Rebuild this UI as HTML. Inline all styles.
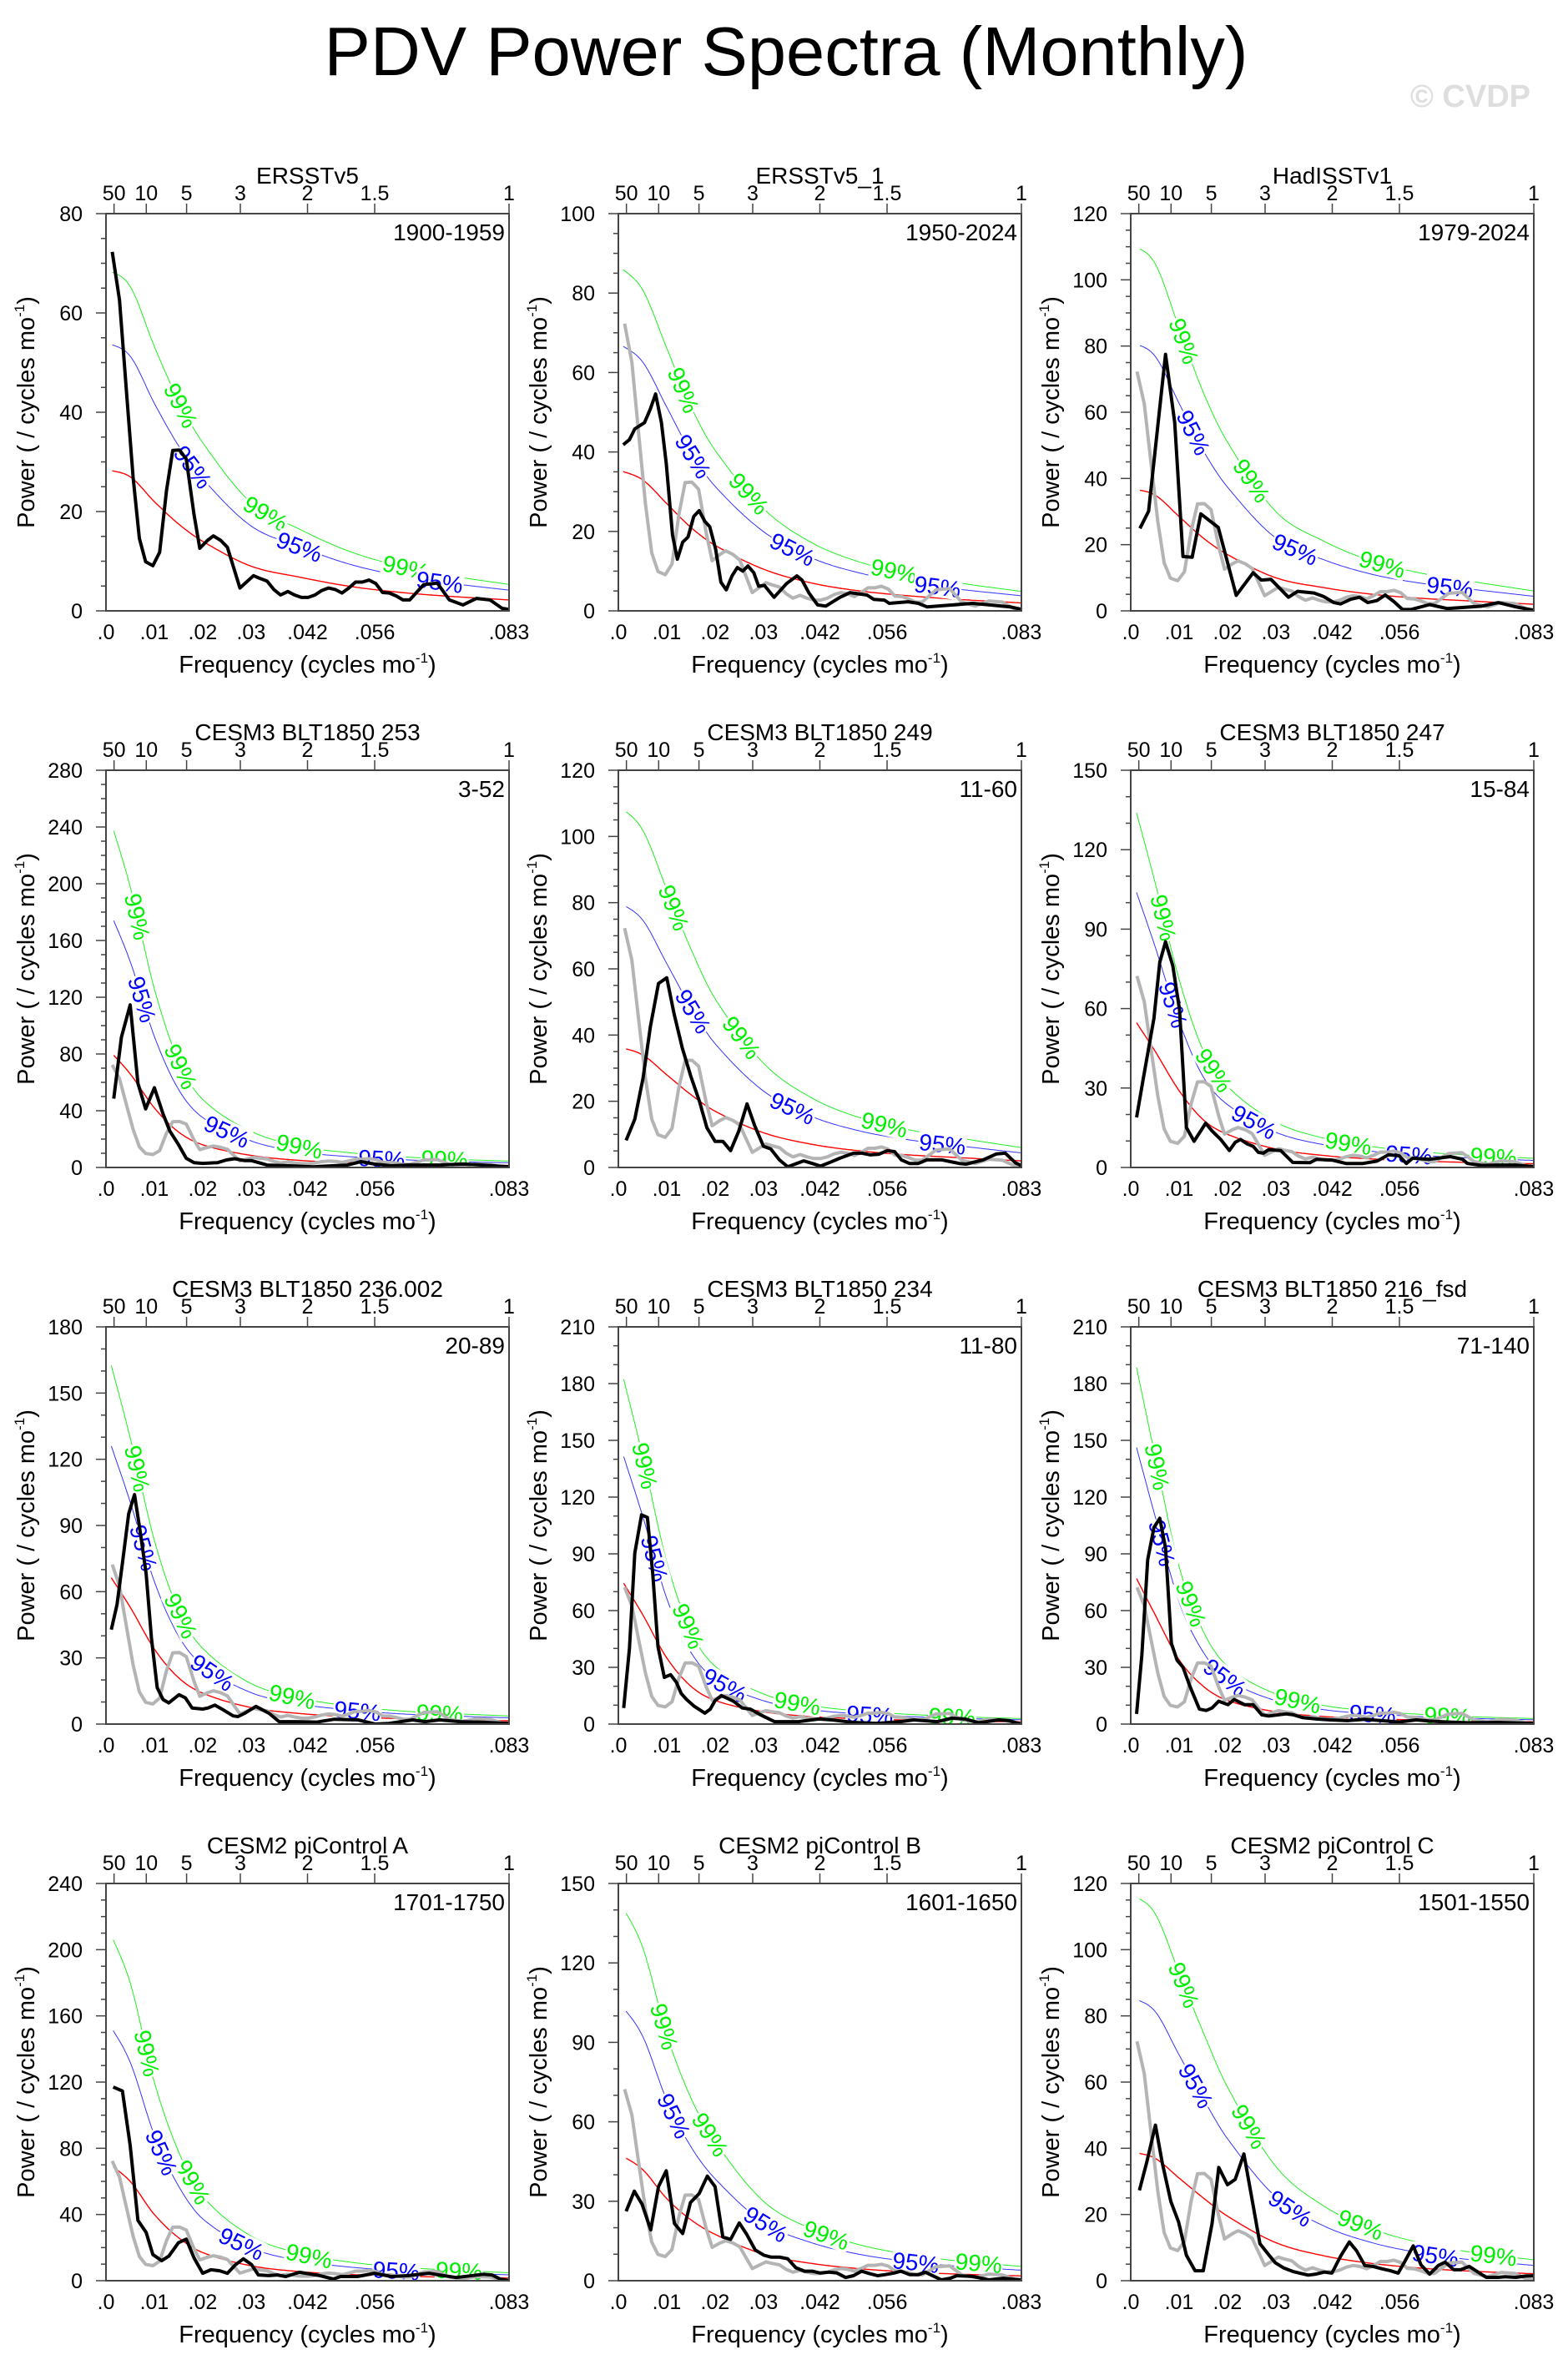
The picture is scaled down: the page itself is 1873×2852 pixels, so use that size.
<!DOCTYPE html>
<html><head><meta charset="utf-8">
<style>
html,body{margin:0;padding:0;background:#fff;}
svg{display:block;font-family:"Liberation Sans",Arial,sans-serif;}
</style></head>
<body>
<svg id="chart" width="1873" height="2852" viewBox="0 0 1873 2852" xmlns="http://www.w3.org/2000/svg">
<rect width="1873" height="2852" fill="#fff"/>
<text x="942" y="90" text-anchor="middle" font-size="83" fill="#000">PDV Power Spectra (Monthly)</text>
<text x="1834" y="128" text-anchor="end" font-size="38" font-weight="bold" fill="#dedede">© CVDP</text>
<g id="panels"></g>
</svg>
<script>
// ---- panel metadata ----
const titles=["ERSSTv5","ERSSTv5_1","HadISSTv1","CESM3 BLT1850 253","CESM3 BLT1850 249","CESM3 BLT1850 247","CESM3 BLT1850 236.002","CESM3 BLT1850 234","CESM3 BLT1850 216_fsd","CESM2 piControl A","CESM2 piControl B","CESM2 piControl C"];
const periods=["1900-1959","1950-2024","1979-2024","3-52","11-60","15-84","20-89","11-80","71-140","1701-1750","1601-1650","1501-1550"];
const yMaxes=[80,100,120,280,120,150,180,210,210,240,150,120];
const yMajor=[20,20,20,40,20,30,30,30,30,40,30,20];
const xTickVals=[0,0.01,0.02,0.03,0.04167,0.05556,0.08333];
const xTickLabels=[".0",".01",".02",".03",".042",".056",".083"];
const periodTicks=[50,10,5,3,2,1.5,1];
const periodLabels=["50","10","5","3","2","1.5","1"];

// ---- black spectra (frequency, power) ----
const p1F=[.0013,.0028,.0042,.0056,.0069,.0082,.0097,.0111,.0125,.0138,.0152,.0166,.0182,.0194,.021,.0222,.0237,.0251,.0277,.0305,.0319,.0333,.0347,.0361,.0376,.039,.0404,.0418,.0432,.0446,.046,.0474,.0488,.0502,.0516,.053,.0544,.0558,.0572,.0586,.06,.0614,.0628,.0657,.0685,.071,.0738,.0766,.0794,.0819,.0833];
const p1P=[72.3,62.6,44.7,26.9,14.6,9.9,9.1,11.8,24.2,32.3,32.4,30.6,19.4,12.6,14.2,15.1,14.2,12.8,4.6,7.1,6.5,6,4.3,3.2,3.9,3.2,2.7,2.7,3.2,4.1,4.6,4.3,3.6,4.6,5.8,5.8,6.2,5.5,3.7,3.6,3,2.2,2.2,5.3,5.6,2.2,1.2,2.5,2.2,0.5,0.3];
const p2F=[.001,.0023,.0034,.0054,.0066,.0077,.0089,.0099,.0112,.0122,.0133,.0144,.0156,.0167,.0179,.0189,.0201,.0212,.0223,.0235,.0246,.0257,.0268,.028,.029,.0302,.0322,.0348,.0369,.038,.0394,.0412,.0429,.0458,.0479,.0514,.0528,.055,.056,.0599,.062,.0638,.0683,.0732,.0768,.081,.0833];
const p2P=[41.8,43.1,45.8,47.4,50.8,54.6,47.4,37.1,19.1,13,17.3,18.6,23.8,25.2,22.5,21.2,15.6,7.2,5.3,8.8,10.9,10,11.3,9.6,6.2,6.4,3.4,6.9,8.8,7.7,4.5,1.5,1.2,3.4,4.6,4,2.9,2.7,1.9,2.3,1.9,1,1.4,1.9,1.5,1,0.4];
const p3F=[.0019,.0037,.0072,.0091,.0108,.0127,.0145,.0181,.0218,.0253,.027,.029,.0326,.0345,.0379,.0399,.042,.0434,.0455,.0473,.049,.0509,.0526,.0544,.0562,.0579,.0618,.0654,.0725,.076,.0796,.0833];
const p3P=[24.9,30.1,77.5,56.9,16.4,16.2,29.3,25.2,4.7,11.5,9.3,9.5,4.1,5.9,5.4,4.3,2.5,2.1,3.5,4.1,2.5,3.1,4.8,2.8,0.4,0.4,1.9,0.7,1.4,2.5,1.2,0.2];
const p4F=[.0016,.0032,.005,.0066,.0082,.01,.0118,.0132,.015,.0166,.0182,.02,.0231,.0249,.0266,.0287,.0301,.0333,.0379,.0428,.0499,.0527,.0555,.059,.0625,.0689,.0738,.078,.0833];
const p4P=[48.5,91.8,114.6,59.3,41.3,56.2,37.7,25.7,16.1,6.5,3.4,2.9,3.4,5.3,6.2,4.8,4.8,1.7,1.2,0.5,1.7,4.1,2.4,1.2,1.7,1.7,2.4,1.7,0.5];
const p5F=[.0016,.0034,.0051,.0066,.0083,.01,.0115,.0132,.015,.0168,.0183,.02,.0216,.0232,.0249,.0266,.0282,.03,.0315,.0333,.035,.0365,.0383,.0401,.0418,.044,.0458,.0486,.0504,.0521,.0539,.0556,.0571,.0585,.0602,.062,.0638,.0669,.0705,.0719,.0754,.0782,.08,.0821,.0835];
const p5P=[8.2,14.6,27,42.4,55.6,57.3,46.5,36.2,27.5,19.8,12,7.9,7.9,5.1,11,19.2,12.6,6.4,5.6,2.3,0.2,1,2,1.2,0.4,1.7,2.8,4.3,4.3,3.8,4,5.1,4.8,2.3,1.2,1.2,2.3,2.3,1.2,1,2.3,4.1,4.3,1.4,0.4];
const p6F=[.0012,.0026,.0048,.006,.0072,.0087,.0101,.0115,.0131,.0155,.0168,.0186,.0204,.0216,.0227,.0241,.0253,.0264,.0274,.0285,.031,.0335,.037,.0384,.0416,.0445,.048,.0509,.0533,.0555,.057,.0583,.0618,.0661,.0686,.0696,.0725,.076,.0796,.0833];
const p6P=[18.9,33.7,56.3,77.5,85.2,76.2,59.5,15.1,9.9,16.7,13.8,10.6,6.4,9.5,10.6,8.9,8,5.7,5.4,6.7,6.4,1.9,1.8,3.1,2.8,1.5,1.5,2.4,4.8,4.4,1.5,3.5,3.1,4.1,3.1,1.5,0.8,0.9,0.9,0.3];
const p7F=[.0011,.0023,.0034,.0047,.0059,.0071,.0083,.0094,.0106,.0118,.013,.0151,.0164,.0178,.02,.0211,.0225,.0242,.0263,.0273,.0287,.031,.0337,.0358,.0394,.0436,.0472,.0521,.0556,.0585,.0634,.0659,.069,.0732,.0782,.0833];
const p7P=[42.8,54.3,72.9,95.3,104,86.7,68.2,38.9,16.5,11.1,9.6,13.3,11.9,7.3,6.8,7.3,8.6,6.5,3.7,3.4,4.9,8,4.9,1.1,1.1,0.9,2.2,1.9,0,0.3,1.9,1.1,1.9,1.1,0.8,0.3];
const p8F=[.0011,.0023,.0034,.0048,.006,.0071,.0082,.0095,.0108,.012,.013,.0141,.0157,.0179,.019,.02,.0213,.0238,.0256,.0273,.0294,.0323,.0372,.0414,.0442,.0485,.0534,.0583,.0611,.066,.0689,.0717,.0745,.0787,.0808,.0833];
const p8P=[8.5,40,90.4,110.6,109.3,79.6,40.9,24.7,26.1,22,16.2,13,9.4,5.8,7.9,12.4,15.1,12.1,8.5,7.9,4.9,1.3,1.3,2.7,2.2,0.9,0.4,1.3,2.2,1.3,3.1,2.7,0.7,2.2,1.8,0];
const p9F=[.0012,.0023,.0035,.0048,.006,.0072,.0084,.0096,.0108,.0122,.0142,.0156,.0168,.0182,.0201,.0214,.0235,.0253,.0271,.0285,.0321,.0335,.0356,.0384,.0413,.0448,.0484,.0519,.0555,.059,.0618,.0654,.0696,.076,.0833];
const p9P=[5.4,36.4,86.8,103.9,108.8,93.1,42.7,33.7,30.1,20.2,7.9,7.2,8.5,12.1,10.3,13,10.3,10.3,4.9,4.3,5.4,5,3.4,2.7,2.2,1.8,2.5,1.8,1.1,2.2,1.6,1.1,0.7,0.9,0.4];
const p10F=[.0015,.0034,.005,.0066,.0083,.0097,.0115,.013,.015,.0166,.0182,.02,.0217,.0235,.0251,.0268,.0284,.0301,.0315,.0337,.0354,.0372,.04,.0425,.0442,.047,.0485,.052,.0555,.059,.0625,.0668,.0689,.0724,.078,.0798,.0815,.0833];
const p10P=[117,114.6,81.7,36.4,29.2,15.8,12.1,14.8,23,25.1,13.8,4.5,6.6,6,4.5,9.7,13.2,9.7,3.5,3.1,3.5,2.5,5.1,3.9,3.1,1,2.5,2.5,4.5,2.5,3.1,4.5,3.5,1.9,3.9,3.5,1,0];
const p11F=[.0016,.0033,.0049,.0067,.0083,.0099,.0116,.0133,.0149,.0167,.0184,.02,.0216,.0232,.025,.0265,.0283,.0301,.0316,.0334,.035,.0367,.0385,.0401,.0417,.0436,.0452,.047,.0486,.0503,.0519,.0536,.0552,.057,.0584,.0602,.062,.0635,.0653,.0668,.0686,.07,.0733,.0766,.0795,.0833];
const p11P=[26.2,33.8,28.9,19.2,35.5,41.5,21.6,17.8,29.5,32.9,39.5,35.5,16.5,15.6,21.8,17.6,11.6,9.6,8.9,8.9,8.3,4.9,3.6,3.6,2.9,3.2,2.9,1.2,1.9,3.6,2.7,1.9,2.3,2.9,3.6,2.3,2.3,3.2,1.6,0.3,0.9,1.9,1.6,0.3,0.9,0.3];
const p12F=[.0018,.0033,.0051,.0065,.0083,.0099,.0115,.0133,.015,.0168,.0182,.02,.0216,.0234,.0251,.0267,.0285,.0299,.0317,.0335,.0349,.0367,.0383,.04,.0416,.0434,.0452,.0467,.0484,.0501,.0519,.0537,.0553,.0567,.0584,.06,.0618,.0636,.065,.0668,.0682,.07,.0716,.0735,.076,.0774,.0796,.0817,.0833];
const p12P=[27.3,35.7,47,35.7,23.9,17.7,7.7,3,3,17.2,34.2,29,30.6,38.3,24.4,11.2,7.9,5.4,3.8,2.8,2.3,1.7,2,2.6,2.3,7.4,11.7,9,4.6,4.3,3.6,3,2.3,5.9,10.5,4.8,2,4.6,5.6,3.3,3.3,4.3,2.8,1,1,1.2,1,1.4,1.5];

// ---- red-noise spectra (sampled) and significance multipliers ----
const redF=[0,.005,.01,.015,.02,.03,.04,.05,.06,.07,.0833];
const red1=[28.5,27,22,17.5,14,9,6.8,5,3.8,3,2.2];
const red2=[35.5,33,27,21,16.5,10.5,7,5,3.8,2.9,2];
const red3=[37,35,28.5,22,17,10,7,5,3.8,3,2];
const red4=[85,66,42,25,16,8.5,5,3.5,2.6,2,1.5];
const red5=[36.5,34,28,22,17,10.5,7,5,3.8,3,2];
const red6=[58,44,29,18,12.5,7,4.5,3.2,2.4,1.9,1.4];
const red7=[70,53,34,21,14,7.5,4.8,3.4,2.5,2,1.5];
const red8=[79,58,35,20,12.5,6.5,4,2.8,2.1,1.6,1.2];
const red9=[83,58,34,20,12.5,6.5,4,2.8,2.1,1.6,1.2];
const red10=[72,60,40,26,17,9,5.5,3.8,2.8,2.2,1.6];
const red11=[48,42,31,23,17.5,10,6.5,4.5,3.3,2.5,1.8];
const red12=[39,37,31,25,19.5,11.5,7.5,5.2,3.8,2.9,2.1];
const sig95=[1.9,1.9,2.2,2.2,2.2,1.9,1.9,1.9,1.9,2.2,2.2,2.2];
const sig99=[2.42,2.45,3.0,3.0,3.0,2.45,2.45,2.45,2.45,3.0,3.0,3.0];
const startF=[.0013,.001,.0019,.0016,.0016,.0012,.0011,.0011,.0012,.0015,.0016,.0018];

// label frequencies along curves
const lab99=[[.0155,.033,.062],[.0135,.027,.057],[.011,.025,.052],[.0065,.0155,.040,.070],[.0115,.0255,.055],[.0068,.0172,.045,.075],[.0065,.0155,.0385,.069],[.0055,.0145,.037,.069],[.0055,.0125,.0345,.0655],[.0085,.018,.042,.073],[.0095,.019,.043,.0745],[.011,.0245,.0475,.075]];
const lab95=[[.018,.040,.069],[.0155,.036,.066],[.013,.034,.066],[.0075,.025,.057],[.0155,.036,.067],[.0088,.0255,.0575],[.0078,.022,.052],[.0075,.022,.052],[.0065,.0195,.050],[.0115,.028,.060],[.0115,.0305,.0615],[.0135,.033,.063]];

const blackF=[p1F,p2F,p3F,p4F,p5F,p6F,p7F,p8F,p9F,p10F,p11F,p12F];
const blackP=[p1P,p2P,p3P,p4P,p5P,p6P,p7P,p8P,p9P,p10P,p11P,p12P];
const reds=[red1,red2,red3,red4,red5,red6,red7,red8,red9,red10,red11,red12];

const NS="http://www.w3.org/2000/svg";
const lefts=[127,741,1355], tops=[256,923,1590,2257];
const PW=483, PH=476, FMAX=0.083333;
function mk(tag,attrs,parent){const e=document.createElementNS(NS,tag);for(const k in attrs)e.setAttribute(k,attrs[k]);parent.appendChild(e);return e;}
function interp(F,V,f){
  const n=F.length; if(f<=F[0])return V[0]; if(f>=F[n-1])return V[n-1];
  let i=0; while(i<n-2&&F[i+1]<f)i++;
  const h=F[i+1]-F[i], t=(f-F[i])/h;
  const m=j=> j===0?(V[1]-V[0])/(F[1]-F[0]) : j===n-1?(V[n-1]-V[n-2])/(F[n-1]-F[n-2]) : (V[j+1]-V[j-1])/(F[j+1]-F[j-1]);
  const t2=t*t,t3=t2*t;
  return (2*t3-3*t2+1)*V[i]+(t3-2*t2+t)*h*m(i)+(-2*t3+3*t2)*V[i+1]+(t3-t2)*h*m(i+1);
}
const root=document.getElementById('panels');
for(let p=0;p<12;p++){
  const L=lefts[p%3], T=tops[Math.floor(p/3)], ymax=yMaxes[p];
  const X=f=>L+f/FMAX*PW, Y=v=>T+PH-v/ymax*PH;
  const g=mk('g',{},root);
  
  
  const cid='clip'+p;
  const cp=mk('clipPath',{id:cid},g); mk('rect',{x:L,y:T,width:PW,height:PH},cp);
  const plot=mk('g',{'clip-path':'url(#'+cid+')'},g);
  const red=reds[p];
  const curve=(mult)=>{let d='';for(let k=0;k<=240;k++){const f=startF[p]+(FMAX-startF[p])*k/240;d+=(k?'L':'M')+X(f).toFixed(1)+' '+Y(interp(redF,red,f)*mult).toFixed(1);}return d;};
  const rp=mk('path',{d:curve(1),fill:'none',stroke:'#ff0000','stroke-width':1.4},plot);
   
  const bp=mk('path',{d:curve(sig95[p]),fill:'none',stroke:'#3333ff','stroke-width':1},plot);
   
  const gp=mk('path',{d:curve(sig99[p]),fill:'none',stroke:'#22ee22','stroke-width':1},plot);
   
  const addLabel=(f,mult,txt,col,nm)=>{
    const x=X(f), y=Y(interp(redF,red,f)*mult);
    const dx=X(f+0.0004)-X(f-0.0004), dy=Y(interp(redF,red,f+0.0004)*mult)-Y(interp(redF,red,f-0.0004)*mult);
    const ang=Math.atan2(dy,dx)*180/Math.PI;
    const lg=mk('g',{transform:`translate(${x.toFixed(1)},${y.toFixed(1)}) rotate(${ang.toFixed(1)})`},plot);
    mk('rect',{x:-29,y:-13,width:58,height:26,fill:'#fff'},lg);
    const t=mk('text',{x:0,y:10,'text-anchor':'middle','font-size':28,fill:col},lg); t.textContent=txt;
     
  };
  lab99[p].forEach(f=>addLabel(f,sig99[p],'99%','#00ee00','sig99-label'));
  lab95[p].forEach(f=>addLabel(f,sig95[p],'95%','#0000ff','sig95-label'));
  const line=(F,P)=>F.map((f,i)=>(i?'L':'M')+X(f).toFixed(1)+' '+Y(P[i]).toFixed(1)).join('');
  if(p>0){const gl=mk('path',{d:line(p1F,p1P),fill:'none',stroke:'#b4b4b4','stroke-width':4,'stroke-linejoin':'round'},plot);
     }
  const bl=mk('path',{d:line(blackF[p],blackP[p]),fill:'none',stroke:'#000','stroke-width':4,'stroke-linejoin':'round'},plot);
   
  const fr=mk('rect',{x:L,y:T,width:PW,height:PH,fill:'none',stroke:'#444','stroke-width':2},g);
   
  const minorStep=yMajor[p]%30===0?yMajor[p]/3:yMajor[p]/4;
  for(let v=0;v<=ymax+1e-6;v+=minorStep){
    const major=Math.abs(v/yMajor[p]-Math.round(v/yMajor[p]))<1e-6;
    mk('line',{x1:L-(major?12:6),x2:L,y1:Y(v),y2:Y(v),stroke:'#444','stroke-width':1.5},g);
    if(major){const t=mk('text',{x:L-28,y:Y(v)+9,'text-anchor':'end','font-size':25,fill:'#000'},g);t.textContent=Math.round(v);
       }
  }
  xTickVals.forEach((f,i)=>{const t=mk('text',{x:X(f),y:T+PH+34,'text-anchor':'middle','font-size':25,fill:'#000'},g);t.textContent=xTickLabels[i];
     });
  periodTicks.forEach((yr,i)=>{const x=X(1/(12*yr));
    mk('line',{x1:x,x2:x,y1:T-12,y2:T,stroke:'#444','stroke-width':1.5},g);
    const t=mk('text',{x:x,y:T-16,'text-anchor':'middle','font-size':25,fill:'#000'},g);t.textContent=periodLabels[i];
     });
  const tt=mk('text',{x:L+PW/2,y:T-36,'text-anchor':'middle','font-size':28,fill:'#000'},g);tt.textContent=titles[p];
   
  const pt=mk('text',{x:L+PW-5,y:T+32,'text-anchor':'end','font-size':28,fill:'#000'},g);pt.textContent=periods[p];
   
  const xt=mk('text',{x:L+PW/2,y:T+PH+74,'text-anchor':'middle','font-size':29,fill:'#000'},g);
  xt.innerHTML='Frequency (cycles mo<tspan dy="-12" font-size="17">-1</tspan><tspan dy="12">)</tspan>';
   
  const yt=mk('text',{x:0,y:0,'text-anchor':'middle','font-size':29,fill:'#000',transform:`translate(${L-86},${T+PH/2}) rotate(-90)`},g);
  yt.innerHTML='Power ( / cycles mo<tspan dy="-12" font-size="17">-1</tspan><tspan dy="12">)</tspan>';
   
}
</script>
</body></html>
